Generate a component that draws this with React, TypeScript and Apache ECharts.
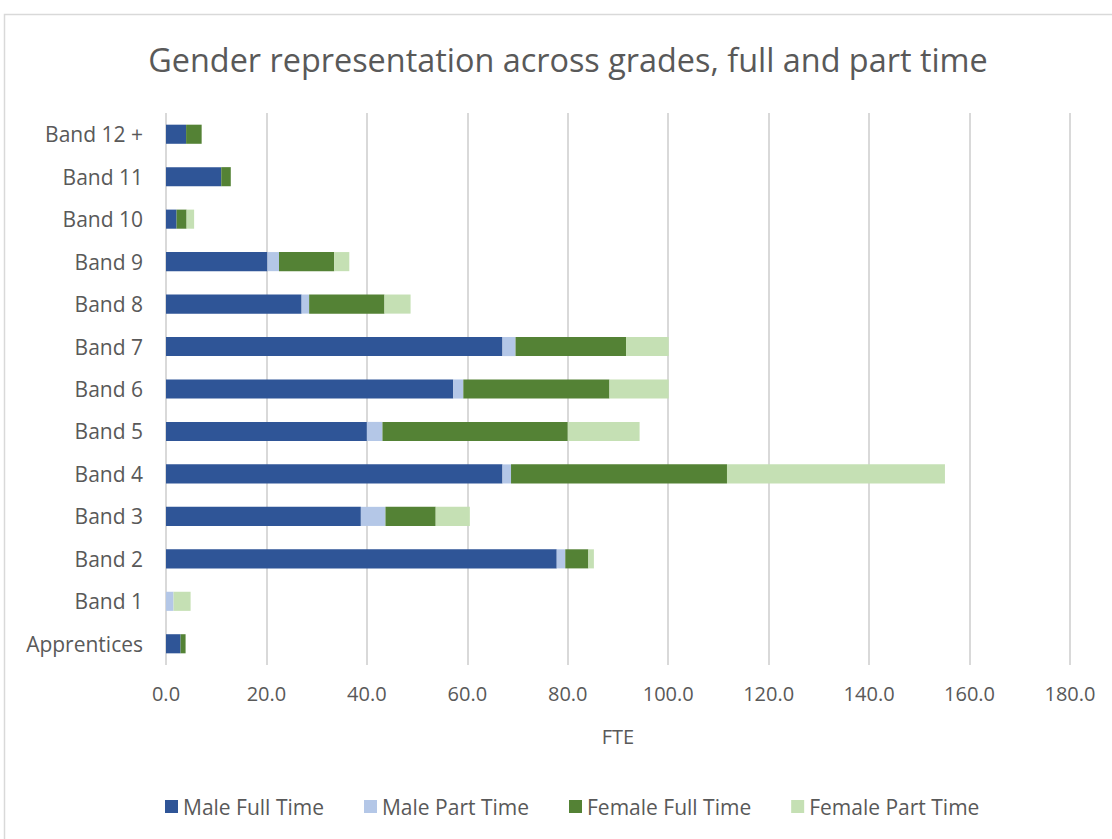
import React, { useEffect, useRef } from "react";
import * as echarts from "echarts";

const categories = ["Apprentices", "Band 1", "Band 2", "Band 3", "Band 4", "Band 5", "Band 6", "Band 7", "Band 8", "Band 9", "Band 10", "Band 11", "Band 12 +"];
const maleFullTime = [2.9, 0, 77.8, 38.8, 67, 40, 57.2, 67, 27, 20.2, 2.1, 11, 4];
const malePartTime = [0, 1.5, 1.7, 4.9, 1.7, 3.1, 2, 2.6, 1.5, 2.3, 0, 0, 0];
const femaleFullTime = [1, 0, 4.6, 10, 43, 36.9, 29.1, 22, 15, 11, 2, 1.9, 3.1];
const femalePartTime = [0, 3.4, 1.1, 6.8, 43.4, 14.3, 11.8, 8.5, 5.2, 3, 1.5, 0, 0];

const seriesNames = ["Male Full Time", "Male Part Time", "Female Full Time", "Female Part Time"];
const seriesColors = ["#2F5597", "#B4C7E7", "#548235", "#C5E0B4"];
const seriesData = [maleFullTime, malePartTime, femaleFullTime, femalePartTime];

const FONT = "'Open Sans', 'Noto Sans', sans-serif";

export default function App() {
  const ref = useRef<HTMLDivElement>(null);
  useEffect(() => {
    if (!ref.current) return;
    const chart = echarts.init(ref.current, null, { renderer: "svg" });
    chart.setOption({
      animation: false,
      backgroundColor: "#ffffff",
      textStyle: { fontFamily: FONT },
      graphic: [
        {
          type: "rect",
          shape: { x: 4.5, y: 14.5, width: 1130, height: 850 },
          style: { fill: "none", stroke: "#d9d9d9", lineWidth: 1.5 },
          silent: true,
        },
      ],
      title: {
        text: "Gender representation across grades, full and part time",
        left: 563,
        textAlign: "center",
        top: 38,
        textStyle: { fontFamily: FONT, fontSize: 32.4, fontWeight: "normal", color: "#595959" },
      },
      legend: {
        data: seriesNames,
        left: 160,
        top: 791,
        itemWidth: 13,
        itemHeight: 13,
        itemGap: 40,
        icon: "rect",
        textStyle: { fontFamily: FONT, fontSize: 21, color: "#595959" },
      },
      grid: { left: 166, right: 42, top: 113, bottom: 174, containLabel: false },
      xAxis: {
        type: "value",
        min: 0,
        max: 180,
        interval: 20,
        name: "FTE",
        nameLocation: "middle",
        nameGap: 61,
        nameTextStyle: { fontFamily: FONT, fontSize: 20, color: "#595959" },
        axisLine: { show: false },
        axisTick: { show: false },
        axisLabel: {
          formatter: (v: number) => v.toFixed(1),
          fontFamily: FONT,
          fontSize: 20,
          color: "#595959",
          margin: 18,
        },
        splitLine: { show: true, lineStyle: { color: "#d9d9d9", width: 2 } },
      },
      yAxis: {
        type: "category",
        data: categories,
        axisLine: { show: false },
        axisTick: { show: false },
        axisLabel: { fontFamily: FONT, fontSize: 21, color: "#595959", margin: 23 },
      },
      series: seriesNames.map((name, i) => ({
        name,
        type: "bar",
        stack: "total",
        data: seriesData[i],
        barCategoryGap: "55%",
        itemStyle: { color: seriesColors[i] },
      })),
    });
    return () => chart.dispose();
  }, []);
  return (
    <div
      ref={ref}
      style={{ position: "fixed", left: 0, top: 0, width: 1112, height: 839 }}
    />
  );
}
